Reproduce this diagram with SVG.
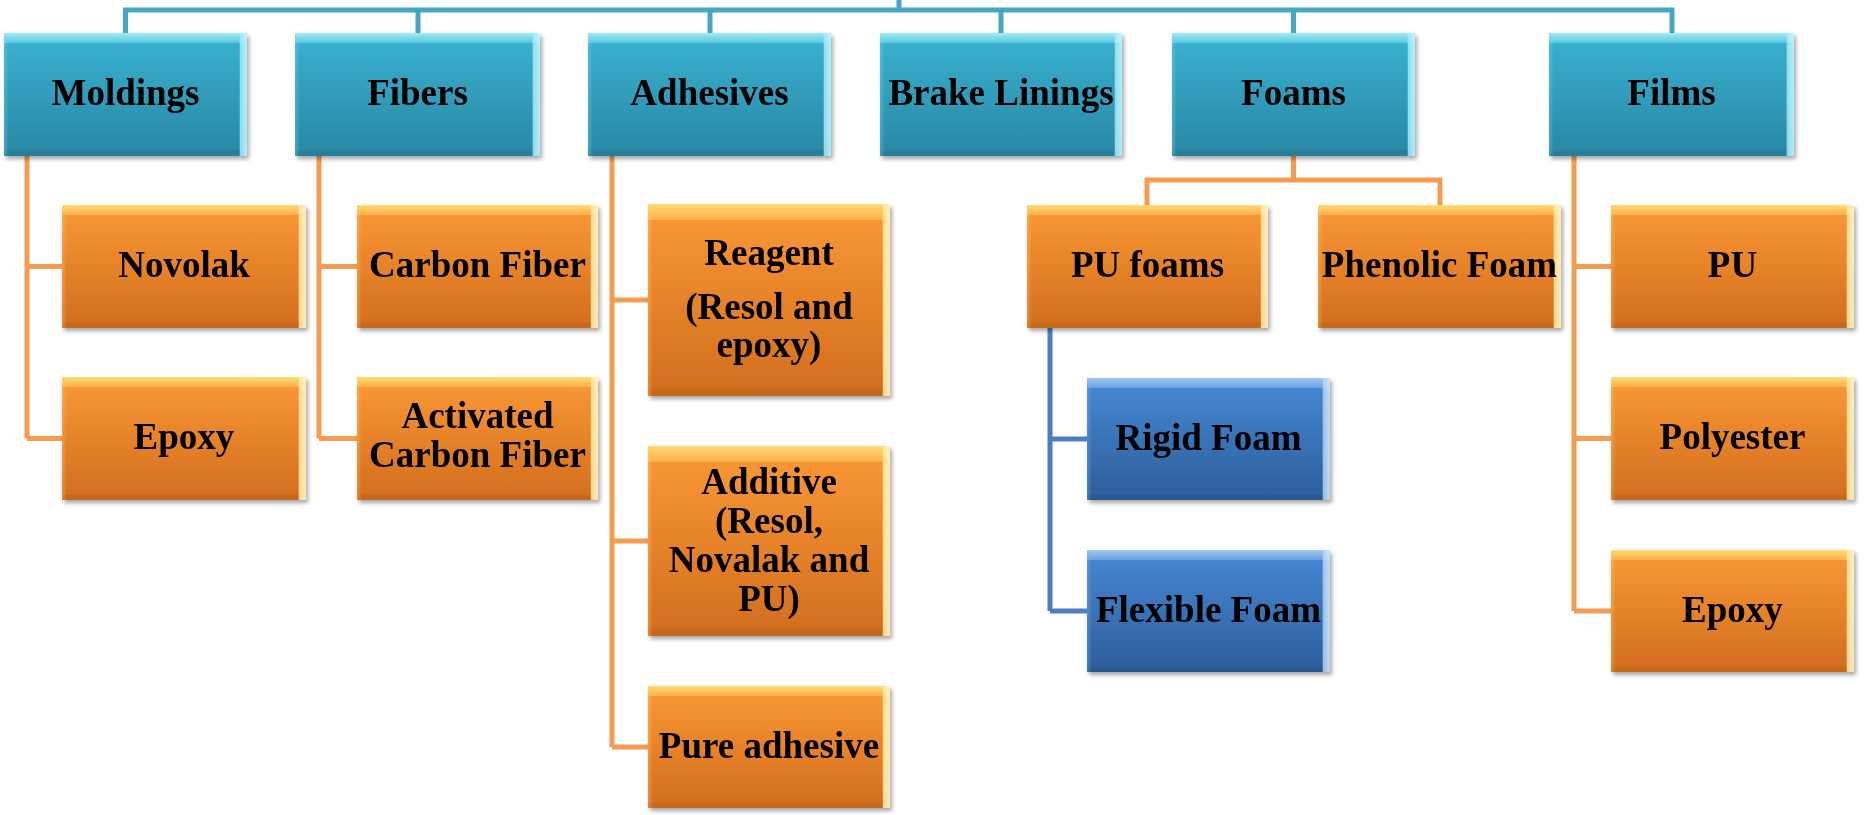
<svg xmlns="http://www.w3.org/2000/svg" width="1864" height="815" viewBox="0 0 1864 815">
<defs>
<linearGradient id="gTeal" x1="0" y1="0" x2="0" y2="1"><stop offset="0" stop-color="#3AB2D2"/><stop offset="1" stop-color="#2887A3"/></linearGradient>
<linearGradient id="gOrange" x1="0" y1="0" x2="0" y2="1"><stop offset="0" stop-color="#FB9936"/><stop offset="1" stop-color="#D26D1E"/></linearGradient>
<linearGradient id="gBlue" x1="0" y1="0" x2="0" y2="1"><stop offset="0" stop-color="#4689D5"/><stop offset="1" stop-color="#2D5D9A"/></linearGradient>
<linearGradient id="hTealTop" x1="0" y1="0" x2="0" y2="1"><stop offset="0" stop-color="#A6EEFA" stop-opacity="0.95"/><stop offset="0.08" stop-color="#7FDDF0" stop-opacity="0.55"/><stop offset="0.085" stop-color="#7FDDF0" stop-opacity="0"/><stop offset="0.95" stop-color="#000" stop-opacity="0"/><stop offset="0.96" stop-color="#000" stop-opacity="0.06"/><stop offset="1" stop-color="#000" stop-opacity="0.08"/></linearGradient>
<linearGradient id="hOrangeTop" x1="0" y1="0" x2="0" y2="1"><stop offset="0" stop-color="#FFE07A" stop-opacity="0.95"/><stop offset="0.08" stop-color="#FFC860" stop-opacity="0.55"/><stop offset="0.085" stop-color="#FFC860" stop-opacity="0"/><stop offset="0.95" stop-color="#000" stop-opacity="0"/><stop offset="0.96" stop-color="#000" stop-opacity="0.05"/><stop offset="1" stop-color="#000" stop-opacity="0.06"/></linearGradient>
<linearGradient id="hBlueTop" x1="0" y1="0" x2="0" y2="1"><stop offset="0" stop-color="#A9CDF3" stop-opacity="0.95"/><stop offset="0.08" stop-color="#8AB8EC" stop-opacity="0.55"/><stop offset="0.085" stop-color="#8AB8EC" stop-opacity="0"/><stop offset="0.95" stop-color="#000" stop-opacity="0"/><stop offset="0.96" stop-color="#000" stop-opacity="0.06"/><stop offset="1" stop-color="#000" stop-opacity="0.08"/></linearGradient>
<linearGradient id="hTealSide" x1="0" y1="0" x2="1" y2="0"><stop offset="0" stop-color="#7FDDF0" stop-opacity="0.35"/><stop offset="0.02" stop-color="#7FDDF0" stop-opacity="0"/><stop offset="0.968" stop-color="#A6EEFA" stop-opacity="0"/><stop offset="0.972" stop-color="#A6EEFA" stop-opacity="0.8"/><stop offset="1" stop-color="#C8F6FF" stop-opacity="0.9"/></linearGradient>
<linearGradient id="hOrangeSide" x1="0" y1="0" x2="1" y2="0"><stop offset="0" stop-color="#FFD070" stop-opacity="0.35"/><stop offset="0.02" stop-color="#FFD070" stop-opacity="0"/><stop offset="0.968" stop-color="#FFE9A8" stop-opacity="0"/><stop offset="0.972" stop-color="#FFE9A8" stop-opacity="0.85"/><stop offset="1" stop-color="#FFF2C4" stop-opacity="0.95"/></linearGradient>
<linearGradient id="hBlueSide" x1="0" y1="0" x2="1" y2="0"><stop offset="0" stop-color="#8AB8EC" stop-opacity="0.35"/><stop offset="0.02" stop-color="#8AB8EC" stop-opacity="0"/><stop offset="0.968" stop-color="#B4D6F7" stop-opacity="0"/><stop offset="0.972" stop-color="#B4D6F7" stop-opacity="0.8"/><stop offset="1" stop-color="#D2E7FB" stop-opacity="0.9"/></linearGradient>
<filter id="sh" x="-5%" y="-5%" width="112%" height="120%"><feDropShadow dx="2" dy="3" stdDeviation="2" flood-color="#000" flood-opacity="0.35"/></filter>
</defs>
<style>
.teal{fill:url(#gTeal)}
.teal-t{fill:url(#hTealTop)}
.teal-s{fill:url(#hTealSide)}
.orange{fill:url(#gOrange)}
.orange-t{fill:url(#hOrangeTop)}
.orange-s{fill:url(#hOrangeSide)}
.blue{fill:url(#gBlue)}
.blue-t{fill:url(#hBlueTop)}
.blue-s{fill:url(#hBlueSide)}
.node{filter:url(#sh)}
text{font-family:"Liberation Serif","Times New Roman",serif;font-weight:bold;font-size:37px;fill:#000;text-anchor:middle}
.ct{fill:none;stroke:#45A6C5;stroke-width:5}
.co{fill:none;stroke:#F59C52;stroke-width:5}
.cb{fill:none;stroke:#4C7FC2;stroke-width:5}
</style>
<rect width="1864" height="815" fill="#fff"/>
<g id="connectors">
<path class="ct" d="M899 0V10M125.5 33V10H1672V33M418 10V33M710 10V33M1001 10V33M1293.5 10V33"/>
<path class="co" d="M27 156V438.5M27 266.5H62M27 438.5H62"/>
<path class="co" d="M319 156V438.5M319 266.5H357M319 438.5H357"/>
<path class="co" d="M612 156V747M612 300H648M612 541H648M612 747H648"/>
<path class="co" d="M1293.5 156V180M1147 205V180H1440V205"/>
<path class="co" d="M1574 156V611M1574 266.5H1611M1574 438.5H1611M1574 611H1611"/>
<path class="cb" d="M1050 328V611M1050 439H1087M1050 611H1087"/>
</g>
<g id="moldings" class="node"><rect class="teal" x="4" y="33" width="243" height="123"/><rect class="teal-t" x="4" y="33" width="243" height="123"/><rect class="teal-s" x="4" y="33" width="243" height="123"/><text x="125.5" y="105">Moldings</text></g>
<g id="fibers" class="node"><rect class="teal" x="295" y="33" width="245" height="123"/><rect class="teal-t" x="295" y="33" width="245" height="123"/><rect class="teal-s" x="295" y="33" width="245" height="123"/><text x="417.5" y="105">Fibers</text></g>
<g id="adhesives" class="node"><rect class="teal" x="588" y="33" width="243" height="123"/><rect class="teal-t" x="588" y="33" width="243" height="123"/><rect class="teal-s" x="588" y="33" width="243" height="123"/><text x="709.5" y="105">Adhesives</text></g>
<g id="brake-linings" class="node"><rect class="teal" x="880" y="33" width="242" height="123"/><rect class="teal-t" x="880" y="33" width="242" height="123"/><rect class="teal-s" x="880" y="33" width="242" height="123"/><text x="1001" y="105">Brake Linings</text></g>
<g id="foams" class="node"><rect class="teal" x="1172" y="33" width="243" height="123"/><rect class="teal-t" x="1172" y="33" width="243" height="123"/><rect class="teal-s" x="1172" y="33" width="243" height="123"/><text x="1293.5" y="105">Foams</text></g>
<g id="films" class="node"><rect class="teal" x="1549" y="33" width="245" height="123"/><rect class="teal-t" x="1549" y="33" width="245" height="123"/><rect class="teal-s" x="1549" y="33" width="245" height="123"/><text x="1671.5" y="105">Films</text></g>
<g id="novolak" class="node"><rect class="orange" x="62" y="205" width="244" height="123"/><rect class="orange-t" x="62" y="205" width="244" height="123"/><rect class="orange-s" x="62" y="205" width="244" height="123"/><text x="184" y="277">Novolak</text></g>
<g id="moldings-epoxy" class="node"><rect class="orange" x="62" y="377" width="244" height="123"/><rect class="orange-t" x="62" y="377" width="244" height="123"/><rect class="orange-s" x="62" y="377" width="244" height="123"/><text x="184" y="449">Epoxy</text></g>
<g id="carbon-fiber" class="node"><rect class="orange" x="357" y="205" width="241" height="123"/><rect class="orange-t" x="357" y="205" width="241" height="123"/><rect class="orange-s" x="357" y="205" width="241" height="123"/><text x="477.5" y="277">Carbon Fiber</text></g>
<g id="activated-carbon-fiber" class="node"><rect class="orange" x="357" y="377" width="241" height="123"/><rect class="orange-t" x="357" y="377" width="241" height="123"/><rect class="orange-s" x="357" y="377" width="241" height="123"/><text x="477.5" y="428">Activated</text><text x="477.5" y="467">Carbon Fiber</text></g>
<g id="reagent" class="node"><rect class="orange" x="648" y="204" width="242" height="192"/><rect class="orange-t" x="648" y="204" width="242" height="192"/><rect class="orange-s" x="648" y="204" width="242" height="192"/><text x="769" y="265">Reagent</text><text x="769" y="319">(Resol and</text><text x="769" y="357">epoxy)</text></g>
<g id="additive" class="node"><rect class="orange" x="648" y="446" width="242" height="190"/><rect class="orange-t" x="648" y="446" width="242" height="190"/><rect class="orange-s" x="648" y="446" width="242" height="190"/><text x="769" y="494">Additive</text><text x="769" y="533">(Resol,</text><text x="769" y="572">Novalak and</text><text x="769" y="611">PU)</text></g>
<g id="pure-adhesive" class="node"><rect class="orange" x="648" y="686" width="242" height="122"/><rect class="orange-t" x="648" y="686" width="242" height="122"/><rect class="orange-s" x="648" y="686" width="242" height="122"/><text x="769" y="758">Pure adhesive</text></g>
<g id="pu-foams" class="node"><rect class="orange" x="1027" y="205" width="241" height="123"/><rect class="orange-t" x="1027" y="205" width="241" height="123"/><rect class="orange-s" x="1027" y="205" width="241" height="123"/><text x="1147.5" y="277">PU foams</text></g>
<g id="phenolic-foam" class="node"><rect class="orange" x="1318" y="205" width="243" height="123"/><rect class="orange-t" x="1318" y="205" width="243" height="123"/><rect class="orange-s" x="1318" y="205" width="243" height="123"/><text x="1439.5" y="277">Phenolic Foam</text></g>
<g id="rigid-foam" class="node"><rect class="blue" x="1087" y="378" width="243" height="122"/><rect class="blue-t" x="1087" y="378" width="243" height="122"/><rect class="blue-s" x="1087" y="378" width="243" height="122"/><text x="1208.5" y="450">Rigid Foam</text></g>
<g id="flexible-foam" class="node"><rect class="blue" x="1087" y="550" width="243" height="122"/><rect class="blue-t" x="1087" y="550" width="243" height="122"/><rect class="blue-s" x="1087" y="550" width="243" height="122"/><text x="1208.5" y="622">Flexible Foam</text></g>
<g id="films-pu" class="node"><rect class="orange" x="1611" y="205" width="243" height="123"/><rect class="orange-t" x="1611" y="205" width="243" height="123"/><rect class="orange-s" x="1611" y="205" width="243" height="123"/><text x="1732.5" y="277">PU</text></g>
<g id="polyester" class="node"><rect class="orange" x="1611" y="377" width="243" height="123"/><rect class="orange-t" x="1611" y="377" width="243" height="123"/><rect class="orange-s" x="1611" y="377" width="243" height="123"/><text x="1732.5" y="449">Polyester</text></g>
<g id="films-epoxy" class="node"><rect class="orange" x="1611" y="550" width="243" height="122"/><rect class="orange-t" x="1611" y="550" width="243" height="122"/><rect class="orange-s" x="1611" y="550" width="243" height="122"/><text x="1732.5" y="622">Epoxy</text></g>
</svg>
